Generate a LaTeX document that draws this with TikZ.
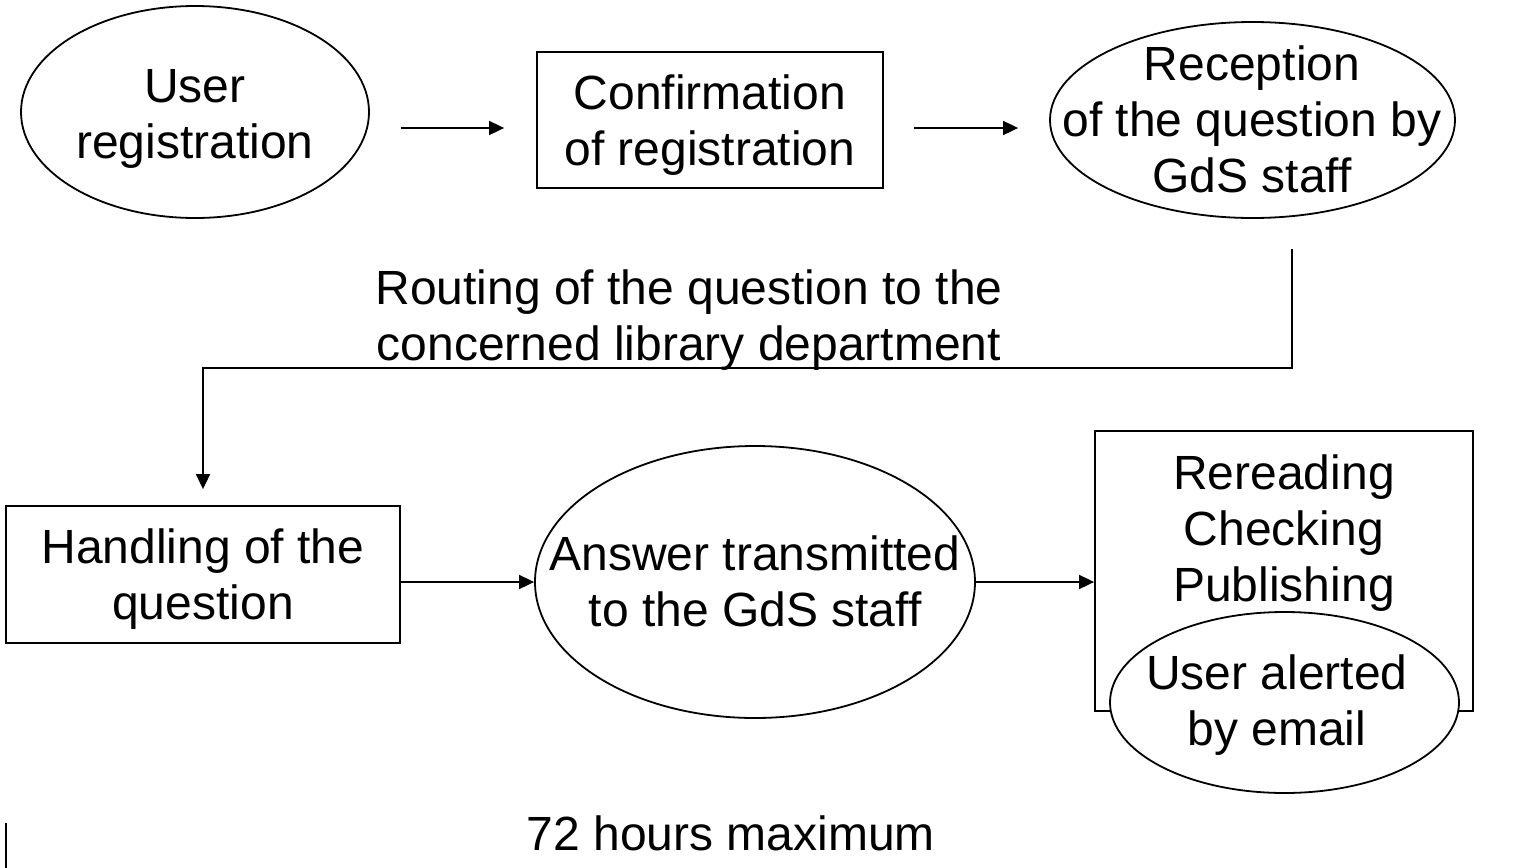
\documentclass[tikz,border=0pt]{standalone}
\usepackage{fontspec}
\setmainfont{Liberation Sans}
\usetikzlibrary{shapes.geometric,arrows.meta,calc}
\begin{document}
\begin{tikzpicture}[x=0.5pt,y=-0.5pt,line width=0.9pt,
  txt/.style={align=center,inner sep=0pt,font=\fontsize{24}{28}\selectfont},
  oval/.style={draw,ellipse,inner sep=0pt},
  boxed/.style={draw,rectangle,inner sep=0pt},
  arr/.style={-{Triangle[length=7.5pt,width=7pt]}}]
\useasboundingbox (0,0) rectangle (1517,868);
% shapes
\node[oval,minimum width=174pt,minimum height=106pt] (u) at (195,112) {};
\node[boxed,minimum width=173pt,minimum height=68pt] (c) at (710,120) {};
\node[oval,minimum width=202.5pt,minimum height=98pt] (r) at (1252.5,120) {};
\node[boxed,minimum width=197pt,minimum height=68.5pt] (h) at (203,574.5) {};
\node[oval,minimum width=220pt,minimum height=136pt] (a) at (755,582) {};
\node[boxed,minimum width=189pt,minimum height=140pt] (p) at (1284,571) {};
\node[oval,fill=white,minimum width=174.5pt,minimum height=90.5pt] (e) at (1284.5,702.5) {};
% texts
\node[txt] (ut) at (195,118.8) {\strut User\\\strut registration};
\node[txt] (ct) at (710,125.8) {\strut Confirmation\\\strut of registration};
\node[txt] (rt) at (1252,125.3) {\strut Reception\\\strut of the question by\\\strut GdS staff};
\node[txt] (rout) at (689,321.3) {\strut Routing of the question to the\\\strut concerned library department};
\node[txt] (ht) at (203,579.8) {\strut Handling of the\\\strut question};
\node[txt] (at) at (755,587.3) {\strut Answer transmitted\\\strut to the GdS staff};
\node[txt] (pt) at (1284,533.8) {\strut Rereading\\\strut Checking\\\strut Publishing};
\node[txt] (et) at (1277,706.3) {\strut User alerted\\\strut by email};
\node[txt,anchor=base] (hrs) at (731,850) {72 hours maximum};
% connectors
\draw[arr] ($(u.east)+(31,16)$) -- ($(c.west)+(-32,8)$);
\draw[arr] ($(c.east)+(30,8)$) -- ($(r.west)+(-31,8)$);
\draw[arr] ($(r.south)+(39.5,30)$) |- ($(h.north)+(0,-137)$) -- ($(h.north)+(0,-16)$);
\draw[arr] (h.east |- a.west) -- (a.west);
\draw[arr] (a.east) -- (a.east -| p.west);
% stray mark at bottom left
\draw (6,823) -- (6,868);
\end{tikzpicture}
\end{document}
